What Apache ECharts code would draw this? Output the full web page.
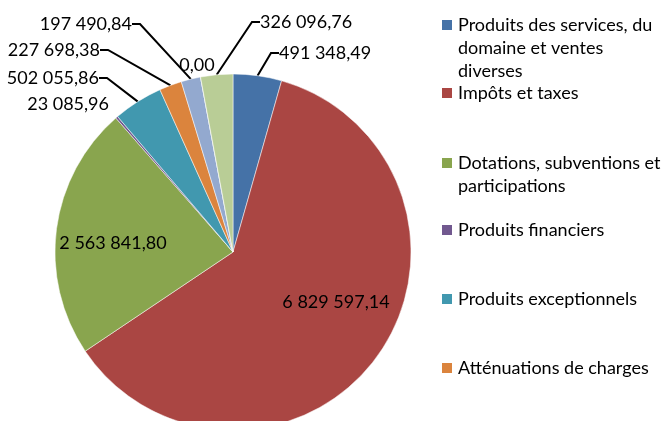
<!DOCTYPE html>
<html>
<head>
<meta charset="utf-8">
<script src="https://cdn.jsdelivr.net/npm/echarts@6/dist/echarts.min.js"></script>
<style>
    html, body { margin: 0; padding: 0; background: #fff; }
    #chart { width: 668px; height: 421px; }
</style>
</head>
<body>
<div id="chart"></div>
<script>
// categories, clockwise from 12 o'clock
var categories = [
    'Produits des services, du domaine et ventes diverses',
    'Impôts et taxes',
    'Dotations, subventions et participations',
    'Produits financiers',
    'Produits exceptionnels',
    'Atténuations de charges',
    'Autres produits de gestion courante',
    'Produits des cessions',
    'Excédent reporté'
];
var values = [491348.49, 6829597.14, 2563841.80, 23085.96, 502055.86, 227698.38, 197490.84, 0.00, 326096.76];
// only the first six legend entries fit in the picture
var legendNames = categories.slice(0, 6);
var legendLines = [
    ['Produits des services, du', 'domaine et ventes', 'diverses'],
    ['Impôts et taxes'],
    ['Dotations, subventions et', 'participations'],
    ['Produits financiers'],
    ['Produits exceptionnels'],
    ['Atténuations de charges']
];

var colors = ['#4572a7', '#aa4643', '#89a54e', '#71588f', '#4198af', '#db843d', '#93a9cf', '#d19392', '#b9cd96'];
var FONT = 'Lato';
var FONT_SIZE = 18;
var LINE_H = 23;

function frNumber(v) {
    var parts = v.toFixed(2).split('.');
    return parts[0].replace(/\B(?=(\d{3})+(?!\d))/g, ' ') + ',' + parts[1];
}

var chart = echarts.init(document.getElementById('chart'));

// where the data labels sit: [x, y, align]
var labelSpots = [
    [279, 53, 'left'],
    [336, 302, 'center'],
    [113, 243, 'center'],
    [109, 104, 'right'],
    [99, 78, 'right'],
    [100, 50, 'right'],
    [132, 24, 'right'],
    [197, 65, 'center'],
    [260, 22, 'left']
];
var insideIdx = [1, 2];
var noLineIdx = [1, 2, 3, 7];

// legend rows (centre of first line)
var legendRowY = [25, 93, 163, 230, 299, 368];

var legends = legendNames.map(function (name, i) {
    var n = legendLines[i].length;
    var blockLines = 2 * n - 1;
    var boxH = Math.max(blockLines * LINE_H, 12);
    return {
        orient: 'vertical',
        left: 440,
        top: legendRowY[i] - boxH / 2,
        padding: 0,
        itemWidth: 12,
        itemHeight: 12,
        icon: 'rect',
        selectedMode: false,
        data: [name],
        formatter: function () {
            // blank lines on top keep the square level with the first line
            var pad = [];
            for (var k = 1; k < n; k++) pad.push('');
            return pad.concat(legendLines[i]).join('\n');
        },
        textStyle: {
            color: '#000',
            fontFamily: FONT,
            fontSize: FONT_SIZE,
            lineHeight: LINE_H
        }
    };
});

var seriesData = categories.map(function (name, i) {
    return {
        name: name,
        value: values[i],
        itemStyle: { color: colors[i] },
        label: { position: insideIdx.indexOf(i) >= 0 ? 'inside' : 'outside' },
        labelLine: { show: noLineIdx.indexOf(i) < 0 }
    };
});

chart.setOption({
    backgroundColor: '#fff',
    animation: false,
    legend: legends,
    series: [
        {
            type: 'pie',
            center: [233, 252],
            radius: 178,
            startAngle: 90,
            clockwise: true,
            avoidLabelOverlap: false,
            data: seriesData,
            itemStyle: {
                borderColor: '#fff',
                borderWidth: 0.5
            },
            label: {
                show: true,
                color: '#000',
                fontFamily: FONT,
                fontSize: FONT_SIZE,
                formatter: function (p) {
                    return frNumber(p.value);
                }
            },
            labelLine: {
                length: 10,
                length2: 8,
                lineStyle: {
                    color: '#000',
                    width: 2
                }
            },
            labelLayout: function (p) {
                var s = labelSpots[p.dataIndex];
                return { x: s[0], y: s[1], align: s[2], verticalAlign: 'middle' };
            }
        }
    ]
});
</script>
</body>
</html>
